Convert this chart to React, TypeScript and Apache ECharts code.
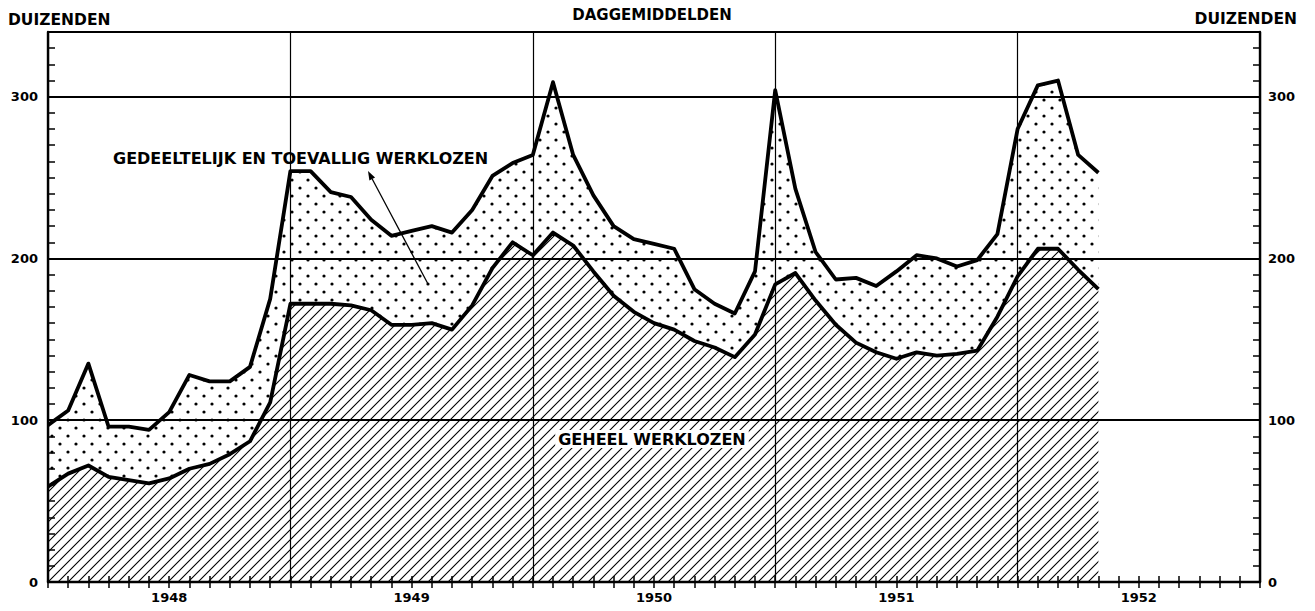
import React, { useEffect, useRef } from 'react';
import * as echarts from 'echarts';

// Month index 0 = Jan 1948 ... 52 = May 1952 (values in thousands)
const years = ['1948', '1949', '1950', '1951', '1952'];
const yTickLabels = [0, 100, 200, 300];

// Total (geheel + gedeeltelijk en toevallig werklozen)
const totaal = [
  97, 106, 135, 96, 96, 94, 105, 128, 124, 124, 133, 175, 254,
  254, 241, 238, 224, 214, 217, 220, 216, 230, 251, 259, 264,
  309, 264, 239, 220, 212, 209, 206, 181, 172, 166, 192, 304,
  243, 204, 187, 188, 183, 192, 202, 200, 195, 199, 215, 280,
  307, 310, 264, 253,
];

// Geheel werklozen
const geheel = [
  59, 67, 72, 65, 63, 61, 64, 70, 73, 79, 87, 111, 172,
  172, 172, 171, 168, 159, 159, 160, 156, 171, 194, 210, 202,
  216, 208, 192, 177, 167, 160, 156, 149, 145, 139, 153, 184,
  191, 174, 159, 148, 142, 138, 142, 140, 141, 143, 164, 189,
  206, 206, 193, 181,
];

// month boundaries Jan 1948 .. Jan 1953 (61 category positions)
const monthSlots = Array.from({ length: 61 }, (_, i) => String(i));

const FONT = '"DejaVu Sans", Verdana, sans-serif';

function makeHatch(p: number) {
  const c = document.createElement('canvas');
  c.width = p;
  c.height = p;
  const ctx = c.getContext('2d')!;
  ctx.strokeStyle = '#000';
  ctx.lineWidth = 1.1;
  ctx.beginPath();
  ctx.moveTo(-1, p + 1);
  ctx.lineTo(p + 1, -1);
  ctx.moveTo(-2, 2);
  ctx.lineTo(2, -2);
  ctx.moveTo(p - 2, p + 2);
  ctx.lineTo(p + 2, p - 2);
  ctx.stroke();
  return c;
}

function makeDots(w: number, h: number) {
  const c = document.createElement('canvas');
  c.width = w;
  c.height = h;
  const ctx = c.getContext('2d')!;
  ctx.fillStyle = '#000';
  const pts = [
    [w / 4, h / 4],
    [(3 * w) / 4, (3 * h) / 4],
  ];
  pts.forEach(([x, y]) => {
    ctx.beginPath();
    ctx.arc(x, y, 1.6, 0, Math.PI * 2);
    ctx.fill();
  });
  return c;
}

export default function App() {
  const ref = useRef<HTMLDivElement>(null);

  useEffect(() => {
    if (!ref.current) return;
    const chart = echarts.init(ref.current, undefined, { renderer: 'svg' });

    const HP = 10;
    const hatch = makeHatch(HP);
    const dots = makeDots(16, 16);

    const upperData = totaal.map((v, i) => v - geheel[i]);

    // arrow geometry
    const ax1 = 428, ay1 = 284, ax2 = 368, ay2 = 171;
    const dx = ax2 - ax1, dy = ay2 - ay1;
    const len = Math.hypot(dx, dy);
    const ux = dx / len, uy = dy / len;
    const bx = ax2 - ux * 9, by = ay2 - uy * 9;
    const px = -uy, py = ux;

    const tickStyle = { color: '#000', width: 1.5 };
    const yearSplit = (index: number) => index % 12 === 0;

    chart.setOption({
      animation: false,
      backgroundColor: '#fff',
      grid: { left: 48, right: 55, top: 32, bottom: 29 },
      xAxis: [
        {
          type: 'category',
          data: monthSlots,
          boundaryGap: false,
          position: 'bottom',
          axisLine: { show: true, lineStyle: { color: '#000', width: 2.4 } },
          axisTick: { show: true, inside: true, length: 6, interval: 0, lineStyle: tickStyle },
          axisLabel: { show: false },
          splitLine: { show: true, interval: yearSplit, lineStyle: { color: '#000', width: 1.2, type: 'solid' } },
        },
        {
          type: 'category',
          data: monthSlots,
          boundaryGap: false,
          position: 'top',
          axisLine: { show: true, lineStyle: { color: '#000', width: 2.2 } },
          axisTick: { show: true, inside: true, length: 6, interval: 0, lineStyle: tickStyle },
          axisLabel: { show: false },
          splitLine: { show: false },
        },
        {
          type: 'category',
          data: years,
          position: 'bottom',
          boundaryGap: true,
          axisLine: { show: false },
          axisTick: { show: false },
          splitLine: { show: false },
          axisLabel: {
            show: true,
            margin: 9,
            color: '#000',
            fontFamily: FONT,
            fontWeight: 'bold',
            fontSize: 13,
          },
        },
      ],
      yAxis: [
        {
          type: 'value',
          min: 0,
          max: 340,
          interval: 10,
          position: 'left',
          axisLine: { show: true, lineStyle: { color: '#000', width: 2.4 } },
          axisTick: { show: true, inside: true, length: 7, lineStyle: tickStyle },
          axisLabel: {
            margin: 10,
            color: '#000',
            fontFamily: FONT,
            fontWeight: 'bold',
            fontSize: 13,
            formatter: (v: number) => (yTickLabels.includes(v) ? String(v) : ''),
          },
          splitLine: { show: false },
        },
        {
          type: 'value',
          min: 0,
          max: 340,
          interval: 10,
          position: 'right',
          axisLine: { show: true, lineStyle: { color: '#000', width: 2.4 } },
          axisTick: { show: true, inside: true, length: 7, lineStyle: tickStyle },
          axisLabel: {
            margin: 8,
            color: '#000',
            fontFamily: FONT,
            fontWeight: 'bold',
            fontSize: 13,
            formatter: (v: number) => (yTickLabels.includes(v) ? String(v) : ''),
          },
          splitLine: { show: false },
        },
        {
          type: 'value',
          min: 0,
          max: 340,
          interval: 100,
          position: 'left',
          axisLine: { show: false },
          axisTick: { show: false },
          axisLabel: { show: false },
          splitLine: { show: true, lineStyle: { color: '#000', width: 1.8 } },
        },
      ],
      series: [
        {
          name: 'Geheel werklozen',
          type: 'line',
          xAxisIndex: 0,
          yAxisIndex: 0,
          stack: 'werklozen',
          data: geheel,
          symbol: 'none',
          lineStyle: { color: '#000', width: 3.8, join: 'round' },
          areaStyle: {
            opacity: 1,
            color: { image: hatch, repeat: 'repeat', imageWidth: HP, imageHeight: HP },
          },
          z: 3,
        },
        {
          name: 'Gedeeltelijk en toevallig werklozen',
          type: 'line',
          xAxisIndex: 0,
          yAxisIndex: 0,
          stack: 'werklozen',
          data: upperData,
          symbol: 'none',
          lineStyle: { color: '#000', width: 3.8, join: 'round' },
          areaStyle: {
            opacity: 1,
            color: { image: dots, repeat: 'repeat', imageWidth: 16, imageHeight: 16 },
          },
          z: 2,
        },
      ],
      graphic: [
        {
          type: 'text', x: 8, y: 20, z: 100,
          style: { text: 'DUIZENDEN', font: `bold 15.5px ${FONT}`, fill: '#000', align: 'left', verticalAlign: 'middle' },
        },
        {
          type: 'text', x: 1297, y: 19, z: 100,
          style: { text: 'DUIZENDEN', font: `bold 15.5px ${FONT}`, fill: '#000', align: 'right', verticalAlign: 'middle' },
        },
        {
          type: 'text', x: 652, y: 15, z: 100,
          style: { text: 'DAGGEMIDDELDEN', font: `bold 15px ${FONT}`, fill: '#000', align: 'center', verticalAlign: 'middle' },
        },
        {
          type: 'text', x: 113, y: 158, z: 100,
          style: { text: 'GEDEELTELIJK EN TOEVALLIG WERKLOZEN', font: `bold 16px ${FONT}`, fill: '#000', align: 'left', verticalAlign: 'middle' },
        },
        {
          type: 'text', x: 652, y: 439, z: 100,
          style: {
            text: 'GEHEEL WERKLOZEN', font: `bold 16px ${FONT}`, fill: '#000', align: 'center', verticalAlign: 'middle',
            backgroundColor: '#fff', padding: [1, 3],
          },
        },
        {
          type: 'line', z: 100,
          shape: { x1: ax1, y1: ay1, x2: bx, y2: by },
          style: { stroke: '#000', lineWidth: 1.3 },
        },
        {
          type: 'polygon', z: 100,
          shape: {
            points: [
              [ax2, ay2],
              [bx + px * 3.2, by + py * 3.2],
              [bx - px * 3.2, by - py * 3.2],
            ],
          },
          style: { fill: '#000' },
        },
      ],
    });

    return () => chart.dispose();
  }, []);

  return (
    <div
      ref={ref}
      style={{ position: 'fixed', left: 0, top: 0, width: 1315, height: 611, background: '#fff' }}
    />
  );
}
